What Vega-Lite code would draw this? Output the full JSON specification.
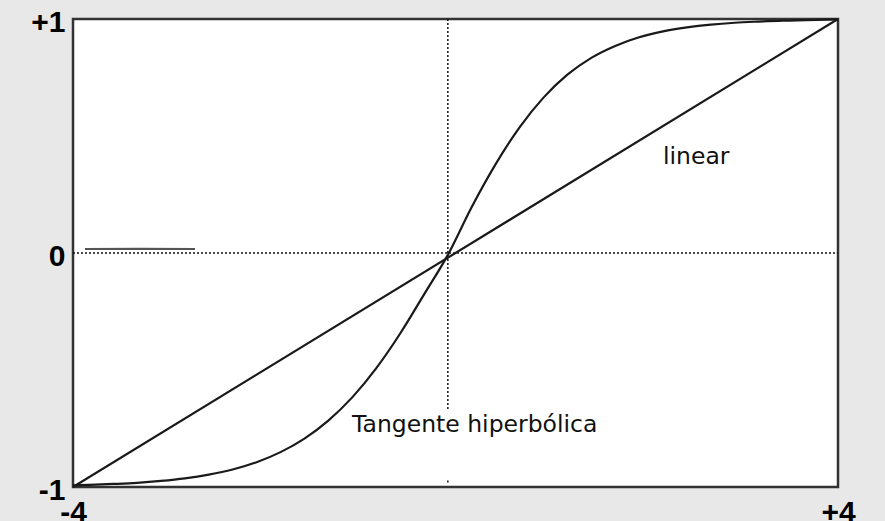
{
  "$schema": "https://vega.github.io/schema/vega-lite/v6.json",
  "width": 765,
  "height": 468,
  "autosize": {"type": "none"},
  "padding": {"left": 73, "top": 19, "right": 47, "bottom": 34},
  "datasets": {
    "curves": [
      {"series": "linear", "x": -4, "y": -1},
      {"series": "linear", "x": 4, "y": 1},
      {"series": "tanh", "x": -4.0, "y": -0.993},
      {"series": "tanh", "x": -3.83, "y": -0.991},
      {"series": "tanh", "x": -3.58, "y": -0.987},
      {"series": "tanh", "x": -3.33, "y": -0.982},
      {"series": "tanh", "x": -3.08, "y": -0.974},
      {"series": "tanh", "x": -2.83, "y": -0.963},
      {"series": "tanh", "x": -2.58, "y": -0.947},
      {"series": "tanh", "x": -2.33, "y": -0.925},
      {"series": "tanh", "x": -2.08, "y": -0.894},
      {"series": "tanh", "x": -1.83, "y": -0.851},
      {"series": "tanh", "x": -1.58, "y": -0.793},
      {"series": "tanh", "x": -1.33, "y": -0.716},
      {"series": "tanh", "x": -1.08, "y": -0.617},
      {"series": "tanh", "x": -0.83, "y": -0.493},
      {"series": "tanh", "x": -0.58, "y": -0.345},
      {"series": "tanh", "x": -0.33, "y": -0.178},
      {"series": "tanh", "x": -0.08, "y": -0.008},
      {"series": "tanh", "x": 0.17, "y": 0.197},
      {"series": "tanh", "x": 0.42, "y": 0.38},
      {"series": "tanh", "x": 0.67, "y": 0.537},
      {"series": "tanh", "x": 0.92, "y": 0.664},
      {"series": "tanh", "x": 1.17, "y": 0.762},
      {"series": "tanh", "x": 1.42, "y": 0.834},
      {"series": "tanh", "x": 1.67, "y": 0.885},
      {"series": "tanh", "x": 1.92, "y": 0.922},
      {"series": "tanh", "x": 2.17, "y": 0.947},
      {"series": "tanh", "x": 2.42, "y": 0.964},
      {"series": "tanh", "x": 2.67, "y": 0.976},
      {"series": "tanh", "x": 2.92, "y": 0.984},
      {"series": "tanh", "x": 3.17, "y": 0.989},
      {"series": "tanh", "x": 3.42, "y": 0.993},
      {"series": "tanh", "x": 3.67, "y": 0.995},
      {"series": "tanh", "x": 4.0, "y": 0.998}
    ],
    "artifact": [
      {"x": -3.875, "y": 0.017},
      {"x": -3.3, "y": 0.018},
      {"x": -2.724, "y": 0.017}
    ],
    "guides": [
      {"x": -4, "x2": 4, "y": 0, "y2": 0},
      {"x": -0.08, "x2": -0.08, "y": 1, "y2": -0.671},
      {"x": -0.08, "x2": -0.08, "y": -0.972, "y2": -0.986}
    ],
    "labels": [
      {"x": -1.082, "y": -0.765, "text": "Tangente hiperbólica"},
      {"x": 2.17, "y": 0.38, "text": "linear"}
    ]
  },
  "layer": [
    {
      "data": {"name": "guides"},
      "mark": {"type": "rule", "color": "#111", "strokeWidth": 1.5, "strokeDash": [2, 2]},
      "encoding": {
        "x": {"field": "x", "type": "quantitative", "scale": {"domain": [-4, 4], "nice": false, "zero": false}, "axis": {"values": [-4, 4], "title": null, "labelExpr": "datum.value > 0 ? '+' + datum.value : (datum.value < 0 ? '-' + (-datum.value) : '0')", "labelPadding": 10}},
        "x2": {"field": "x2"},
        "y": {"field": "y", "type": "quantitative", "scale": {"domain": [-1, 1], "nice": false, "zero": false}, "axis": {"values": [-1, 0, 1], "title": null, "labelExpr": "datum.value > 0 ? '+' + datum.value : (datum.value < 0 ? '-' + (-datum.value) : '0')", "labelPadding": 8, "labelBaseline": "middle", "labelOffset": 3}},
        "y2": {"field": "y2"}
      }
    },
    {
      "data": {"name": "artifact"},
      "mark": {"type": "line", "color": "#555", "strokeWidth": 2.2},
      "encoding": {
        "x": {"field": "x", "type": "quantitative"},
        "y": {"field": "y", "type": "quantitative"}
      }
    },
    {
      "data": {"name": "curves"},
      "mark": {"type": "line", "color": "#1a1a1a", "strokeWidth": 2.2, "interpolate": "monotone"},
      "encoding": {
        "x": {"field": "x", "type": "quantitative"},
        "y": {"field": "y", "type": "quantitative"},
        "detail": {"field": "series"}
      }
    },
    {
      "data": {"name": "labels"},
      "mark": {"type": "text", "font": "DejaVu Sans", "fontSize": 23.5, "align": "left", "baseline": "alphabetic", "color": "#111"},
      "encoding": {
        "x": {"field": "x", "type": "quantitative"},
        "y": {"field": "y", "type": "quantitative"},
        "text": {"field": "text"}
      }
    }
  ],
  "config": {
    "background": "#e8e8e8",
    "view": {"fill": "white", "stroke": "#333", "strokeWidth": 2.5},
    "axis": {
      "domain": false,
      "ticks": false,
      "grid": false,
      "labelFont": "Liberation Sans",
      "labelFontWeight": "bold",
      "labelFontSize": 30,
      "labelColor": "#000",
      "labelFlush": false,
      "labelOverlap": false
    }
  }
}
